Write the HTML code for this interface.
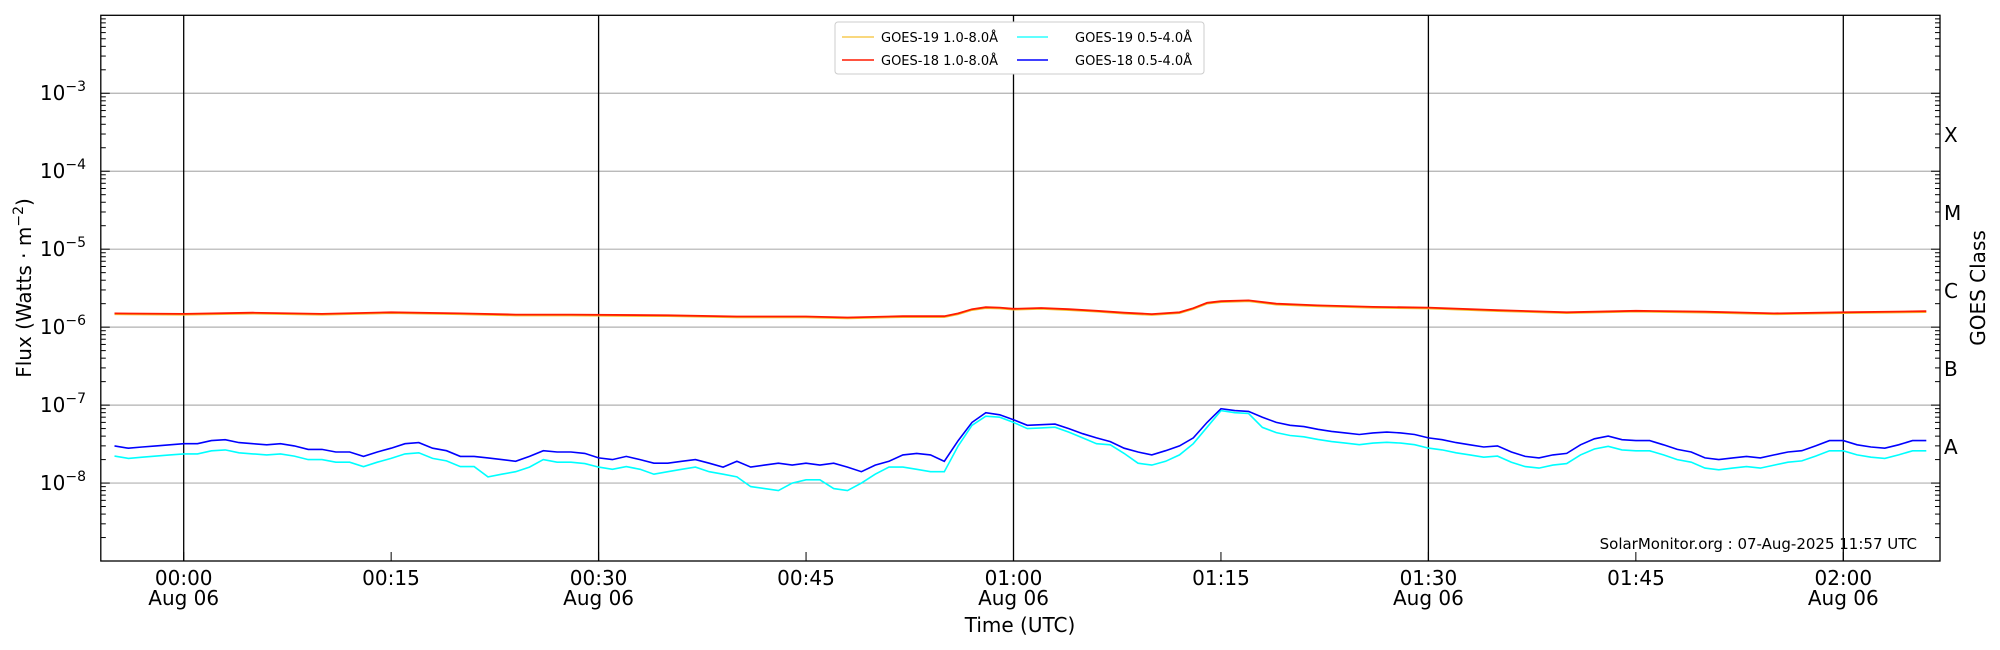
<!DOCTYPE html>
<html><head><meta charset="utf-8"><style>
html,body{margin:0;padding:0;background:#fff;width:2000px;height:650px;overflow:hidden}
svg{display:block;font-family:"DejaVu Sans","Liberation Sans",sans-serif}
</style></head><body>
<svg id="s" width="2000" height="650" xmlns="http://www.w3.org/2000/svg">
<rect width="2000" height="650" fill="#fff"/>
<g id="grid"></g>
<g id="lines"></g>
<g id="ticks"></g>
<rect x="100.8" y="15.3" width="1839.2" height="545.7" fill="none" stroke="#000" stroke-width="1.3"/>
<g font-size="20" fill="#000" text-anchor="end">
<text x="86" y="100">10<tspan font-size="14" dy="-9">−3</tspan></text>
<text x="86" y="178">10<tspan font-size="14" dy="-9">−4</tspan></text>
<text x="86" y="256">10<tspan font-size="14" dy="-9">−5</tspan></text>
<text x="86" y="334">10<tspan font-size="14" dy="-9">−6</tspan></text>
<text x="86" y="412">10<tspan font-size="14" dy="-9">−7</tspan></text>
<text x="86" y="490">10<tspan font-size="14" dy="-9">−8</tspan></text>
</g>
<g font-size="20" fill="#000">
<text x="1944" y="142">X</text>
<text x="1944" y="220">M</text>
<text x="1944" y="298">C</text>
<text x="1944" y="376">B</text>
<text x="1944" y="454">A</text>
</g>
<g font-size="20" fill="#000" text-anchor="middle">
<text x="183.7" y="585">00:00</text><text x="183.7" y="605">Aug 06</text>
<text x="391" y="585">00:15</text>
<text x="598.6" y="585">00:30</text><text x="598.6" y="605">Aug 06</text>
<text x="806" y="585">00:45</text>
<text x="1013.5" y="585">01:00</text><text x="1013.5" y="605">Aug 06</text>
<text x="1221" y="585">01:15</text>
<text x="1428.4" y="585">01:30</text><text x="1428.4" y="605">Aug 06</text>
<text x="1636" y="585">01:45</text>
<text x="1843.3" y="585">02:00</text><text x="1843.3" y="605">Aug 06</text>
<text x="1020" y="632">Time (UTC)</text>
<text transform="translate(31,288) rotate(-90)">Flux (Watts · m<tspan font-size="14" dy="-8">−2</tspan><tspan dy="8">)</tspan></text>
<text transform="translate(1985,288) rotate(-90)">GOES Class</text>
</g>
<text x="1917" y="549" font-size="15" text-anchor="end" fill="#000">SolarMonitor.org : 07-Aug-2025 11:57 UTC</text>
<g>
<rect x="835" y="22" width="369" height="52" fill="#fff" stroke="#ccc" stroke-width="1" rx="3"/>
<line x1="842" y1="37" x2="874" y2="37" stroke="#f5c030" stroke-width="1.3"/>
<line x1="842" y1="60" x2="874" y2="60" stroke="#ff1a00" stroke-width="1.6"/>
<line x1="1017" y1="37" x2="1048" y2="37" stroke="#00ffff" stroke-width="1.3"/>
<line x1="1017" y1="60" x2="1048" y2="60" stroke="#0000ff" stroke-width="1.6"/>
<g font-size="13" fill="#000">
<text x="881" y="42">GOES-19 1.0-8.0Å</text>
<text x="881" y="65">GOES-18 1.0-8.0Å</text>
<text x="1075" y="42">GOES-19 0.5-4.0Å</text>
<text x="1075" y="65">GOES-18 0.5-4.0Å</text>
</g></g>
</svg>
<script>
var L=100.8,R=1940,T=15.3,B=561,D=77.96;
function Y(v){return T+(-2-Math.log10(v))*D}
function X(m){return 183.7+m*13.83}
var ns="http://www.w3.org/2000/svg";
function el(p,t,a){var e=document.createElementNS(ns,t);for(var k in a)e.setAttribute(k,a[k]);document.getElementById(p).appendChild(e);}
for(var d=-8;d<=-3;d++){var y=Y(Math.pow(10,d));el("grid","line",{x1:L,x2:R,y1:y,y2:y,stroke:"#b0b0b0","stroke-width":1.2});}
[0,30,60,90,120].forEach(function(m){el("grid","line",{x1:X(m),x2:X(m),y1:T,y2:B,stroke:"#000","stroke-width":1.3});});
for(var d=-9;d<-2;d++){for(var k=1;k<10;k++){var y=Y(k*Math.pow(10,d));if(y<T)continue;var len=k==1?9:5;
el("ticks","line",{x1:L,x2:L+len,y1:y,y2:y,stroke:"#000","stroke-width":1});
el("ticks","line",{x1:R,x2:R-len,y1:y,y2:y,stroke:"#000","stroke-width":1});}}
for(var m=0;m<=120;m+=15){el("ticks","line",{x1:X(m),x2:X(m),y1:B,y2:B-9,stroke:"#000","stroke-width":1});}
var blue=[3.0,2.8,2.9,3.0,3.1,3.2,3.2,3.5,3.6,3.3,3.2,3.1,3.2,3.0,2.7,2.7,2.5,2.5,2.2,2.5,2.8,3.2,3.3,2.8,2.6,2.2,2.2,2.1,2.0,1.9,2.2,2.6,2.5,2.5,2.4,2.1,2.0,2.2,2.0,1.8,1.8,1.9,2.0,1.8,1.6,1.9,1.6,1.7,1.8,1.7,1.8,1.7,1.8,1.6,1.4,1.7,1.9,2.3,2.4,2.3,1.9,3.5,6,8,7.5,6.5,5.5,5.6,5.7,5,4.3,3.8,3.4,2.8,2.5,2.3,2.6,3,3.8,6,9,8.5,8.3,7,6,5.5,5.3,4.9,4.6,4.4,4.2,4.4,4.5,4.4,4.2,3.8,3.6,3.3,3.1,2.9,3.0,2.5,2.2,2.1,2.3,2.4,3.1,3.7,4.0,3.6,3.5,3.5,3.1,2.7,2.5,2.1,2.0,2.1,2.2,2.1,2.3,2.5,2.6,3.0,3.5,3.5,3.1,2.9,2.8,3.1,3.5,3.5];
var over={41:0.9,42:0.85,43:0.8,44:1.0,45:1.1,46:1.1,47:0.85,48:0.8,49:1.0,50:1.3,51:1.6,52:1.6,53:1.5,54:1.4,55:1.4,56:3.0,57:5.5,58:7.2,59:7,60:6,61:5,62:5.1,63:5.2,64:4.5,65:3.8,66:3.2,67:3.1,68:2.4,69:1.8,70:1.7,71:1.9,72:2.3,73:3.2,74:5.2,75:8.5,76:8,77:7.8,35:1.4,36:1.5,37:1.6,38:1.4,39:1.3,40:1.2,33:1.5,34:1.3,30:1.6,31:1.5,24:1.4,23:1.3,22:1.2,25:1.6,26:2.0};
var pb="",pc="";
for(var i=0;i<blue.length;i++){var m=i-5;var c=over[m]!==undefined?over[m]:blue[i]*0.74;
pb+=(i?"L":"M")+X(m).toFixed(1)+","+Y(blue[i]*1e-8).toFixed(1);
pc+=(i?"L":"M")+X(m).toFixed(1)+","+Y(c*1e-8).toFixed(1);}
var red=[[-5,1.5],[0,1.48],[5,1.53],[10,1.48],[15,1.55],[20,1.5],[24,1.45],[28,1.45],[35,1.42],[40,1.37],[45,1.37],[48,1.33],[52,1.38],[55,1.38],[56,1.5],[57,1.7],[58,1.8],[59,1.78],[60,1.72],[62,1.76],[64,1.7],[66,1.62],[68,1.53],[70,1.47],[72,1.55],[73,1.75],[74,2.05],[75,2.15],[77,2.2],[79,2.0],[82,1.9],[86,1.82],[90,1.78],[95,1.65],[100,1.55],[105,1.62],[110,1.58],[115,1.5],[120,1.55],[126,1.6]];
var pr="",po="";red.forEach(function(p,i){pr+=(i?"L":"M")+X(p[0]).toFixed(1)+","+Y(p[1]*1e-6).toFixed(1);po+=(i?"L":"M")+X(p[0]).toFixed(1)+","+(Y(p[1]*1e-6)+1).toFixed(1);});
el("lines","path",{d:po,fill:"none",stroke:"#f5c030","stroke-width":1.5});
el("lines","path",{d:pr,fill:"none",stroke:"#ff1a00","stroke-width":1.8});
el("lines","path",{d:pc,fill:"none",stroke:"#00ffff","stroke-width":1.6});
el("lines","path",{d:pb,fill:"none",stroke:"#0000ff","stroke-width":1.6});
</script>
</body></html>
